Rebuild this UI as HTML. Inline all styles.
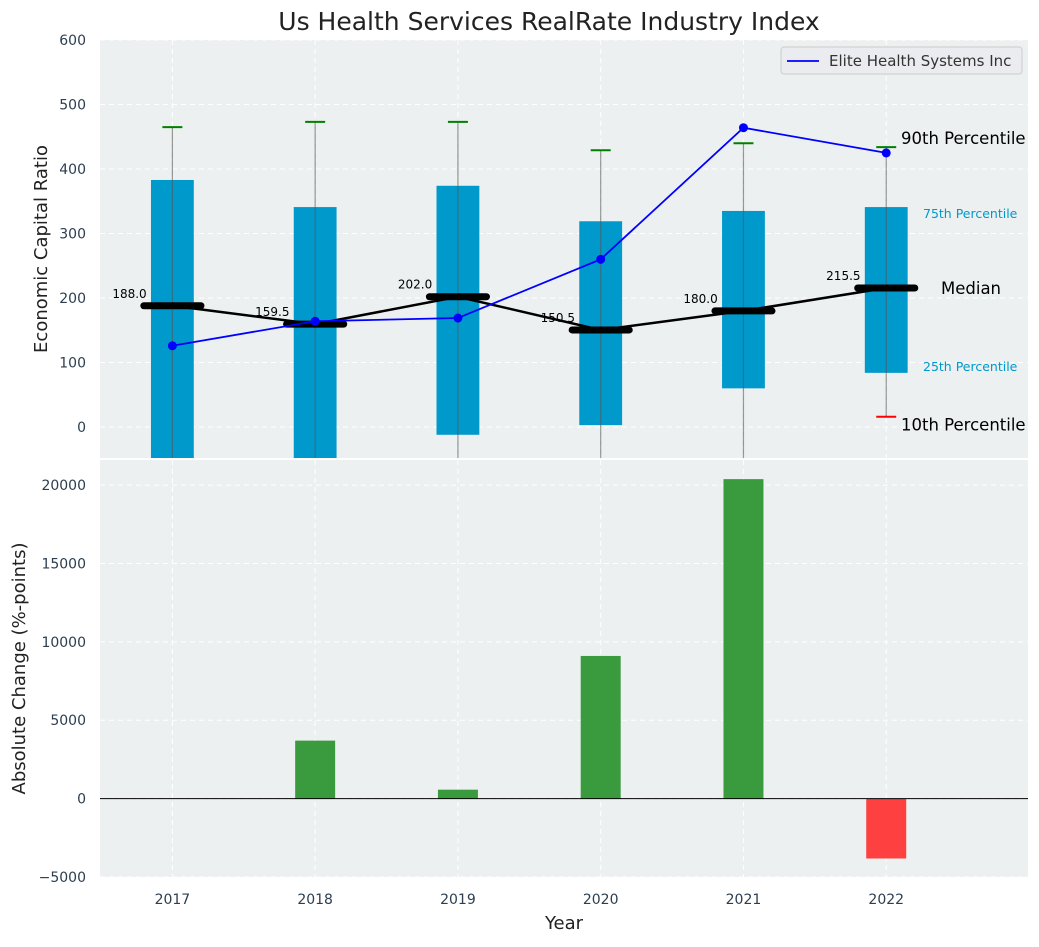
<!DOCTYPE html>
<html><head><meta charset="utf-8"><style>
body{margin:0;background:#fff;font-family:"Liberation Sans","DejaVu Sans",sans-serif;}
svg text{font-family:"DejaVu Sans","Liberation Sans",sans-serif;}
</style></head><body>
<svg id="c" width="1039" height="942" xmlns="http://www.w3.org/2000/svg"></svg>
<script>
const years=[2017,2018,2019,2020,2021,2022];
const p10=[-120,-120,-120,-120,-120,16];
const p25=[-120,-120,-12,3,60,84];
const p75=[383,341,374,319,335,341];
const p90=[465,473,473,429,440,434];
const medians=[188,159.5,202,150.5,180,215.5];
const elite=[126,164,169,260,464,425];
const changes=[0,3700,570,9100,20380,-3820];
const topTicks=[0,100,200,300,400,500,600];
const botTicks=[-5000,0,5000,10000,15000,20000];

const svg=document.getElementById('c');
const NS='http://www.w3.org/2000/svg';
function mk(t,a,p){const e=document.createElementNS(NS,t);for(const k in a)e.setAttribute(k,a[k]);(p||svg).appendChild(e);return e;}
const L=100,R=1028;
const X=v=>L+1+(v-2016.5)/(2023-2016.5)*(R-L);
const T0=40,T1=458,tmin=-48,tmax=600;
const YT=v=>T1-(v-tmin)/(tmax-tmin)*(T1-T0);
const B0=460,B1=877,bmin=-5000,bmax=21600;
const YB=v=>B1-(v-bmin)/(bmax-bmin)*(B1-B0);

let t=mk('text',{x:549,y:30,'text-anchor':'middle','font-size':25,fill:'#222'});t.textContent='Us Health Services RealRate Industry Index';



let bg=mk('rect',{x:L,y:T0,width:R-L,height:T1-T0,fill:'#ecf0f1'});


let bg2=mk('rect',{x:L,y:B0,width:R-L,height:B1-B0,fill:'#ecf0f1'});



const cp=mk('clipPath',{id:'ct'});mk('rect',{x:L,y:T0,width:R-L,height:T1-T0},cp);
const topG=mk('g',{'clip-path':'url(#ct)'});



years.forEach(y=>{
  mk('line',{x1:X(y),x2:X(y),y1:T0,y2:T1,stroke:'#fff','stroke-dasharray':'5,4','stroke-width':1},topG);
  mk('line',{x1:X(y),x2:X(y),y1:B0,y2:B1,stroke:'#fff','stroke-dasharray':'5,4','stroke-width':1});
  let tx=mk('text',{x:X(y),y:904,'text-anchor':'middle','font-size':14,fill:'#2c3e50'});tx.textContent=y;
  
  
});
topTicks.forEach(v=>{
  mk('line',{x1:L,x2:R,y1:YT(v),y2:YT(v),stroke:'#fff','stroke-dasharray':'5,4'},topG);
  let tx=mk('text',{x:86,y:YT(v)+5,'text-anchor':'end','font-size':14,fill:'#2c3e50'});tx.textContent=v;
  
  
});
botTicks.forEach(v=>{
  mk('line',{x1:L,x2:R,y1:YB(v),y2:YB(v),stroke:'#fff','stroke-dasharray':'5,4'});
  let tx=mk('text',{x:86,y:YB(v)+5,'text-anchor':'end','font-size':14,fill:'#2c3e50'});tx.textContent=v<0?'\u2212'+(-v):v;
  
  
});

years.forEach((y,i)=>{
  let b=mk('rect',{x:X(y-0.15),y:YT(p75[i]),width:X(y+0.15)-X(y-0.15),height:YT(p25[i])-YT(p75[i]),fill:'#0099cc'},topG);
  
  
  let w=mk('line',{x1:X(y),x2:X(y),y1:YT(p10[i]),y2:YT(p90[i]),stroke:'#555','stroke-opacity':0.6,'stroke-width':1.2},topG);
  
  
  let g=mk('line',{x1:X(y-0.07),x2:X(y+0.07),y1:YT(p90[i]),y2:YT(p90[i]),stroke:'green','stroke-width':2},topG);
  
  
  let r=mk('line',{x1:X(y-0.07),x2:X(y+0.07),y1:YT(p10[i]),y2:YT(p10[i]),stroke:'red','stroke-width':2},topG);
  
  
});
let mp=mk('polyline',{points:years.map((y,i)=>X(y)+','+YT(medians[i])).join(' '),fill:'none',stroke:'#000','stroke-width':2.5},topG);


years.forEach((y,i)=>{
  let m=mk('line',{x1:X(y-0.2),x2:X(y+0.2),y1:YT(medians[i]),y2:YT(medians[i]),stroke:'#000','stroke-width':7,'stroke-linecap':'round'},topG);
  
  
  let tx=mk('text',{x:X(y-0.18),y:YT(medians[i])-8,'text-anchor':'end','font-size':12,fill:'#000'},topG);tx.textContent=medians[i].toFixed(1);
  
  
});
let ep=mk('polyline',{points:years.map((y,i)=>X(y)+','+YT(elite[i])).join(' '),fill:'none',stroke:'blue','stroke-width':1.8},topG);


years.forEach((y,i)=>{let c=mk('circle',{cx:X(y),cy:YT(elite[i]),r:4.5,fill:'blue'},topG);

});

const last=years.length-1;
function ann(txt,x,y,size,col,name){let a=mk('text',{x:x,y:y,'font-size':size,fill:col});a.textContent=txt;

}
ann('90th Percentile',901,YT(p90[last])-3,16.5,'#000','p90-annotation');
ann('75th Percentile',923,YT(p75[last])+11,12.5,'#0099cc','p75-annotation');
ann('Median',941,YT(medians[last])+6,16.5,'#000','median-annotation');
ann('25th Percentile',923,YT(p25[last])-2,12.5,'#0099cc','p25-annotation');
ann('10th Percentile',901,YT(p10[last])+14,16.5,'#000','p10-annotation');

let lg=mk('g',{});


mk('rect',{x:781,y:47,width:241,height:27,rx:3,fill:'#eaecef',stroke:'#ccc'},lg);
mk('line',{x1:787,x2:819,y1:61,y2:61,stroke:'blue','stroke-width':1.8},lg);
let lt=mk('text',{x:829,y:66,'font-size':15,fill:'#333'},lg);lt.textContent='Elite Health Systems Inc';

years.forEach((y,i)=>{
  const v=changes[i];
  let b=mk('rect',{x:X(y-0.14),y:Math.min(YB(v),YB(0)),width:X(y+0.14)-X(y-0.14),height:Math.abs(YB(v)-YB(0)),fill:v>=0?'#3a9b3e':'#ff4040'});
  
  
});
let zl=mk('line',{x1:L,x2:R,y1:YB(0),y2:YB(0),stroke:'#000','stroke-width':1});



let yt=mk('text',{x:0,y:0,'font-size':18,fill:'#222','text-anchor':'middle',transform:'translate(47,'+((T0+T1)/2)+') rotate(-90)'});yt.textContent='Economic Capital Ratio';


let yb=mk('text',{x:0,y:0,'font-size':18,fill:'#222','text-anchor':'middle',transform:'translate(25,'+((B0+B1)/2)+') rotate(-90)'});yb.textContent='Absolute Change (%-points)';


let xt=mk('text',{x:564,y:929,'font-size':18,fill:'#222','text-anchor':'middle'});xt.textContent='Year';


</script>
</body></html>
